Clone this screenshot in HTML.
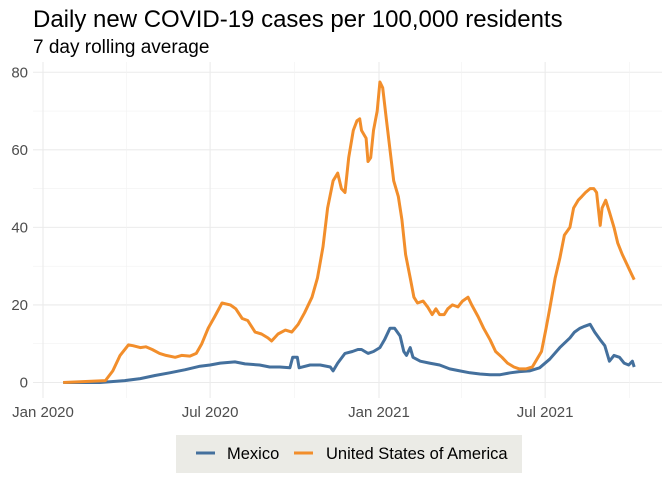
<!DOCTYPE html>
<html><head><meta charset="utf-8"><style>
body{margin:0;background:#fff;font-family:"Liberation Sans",sans-serif;}
svg{display:block}
</style></head><body>
<svg id="chart" width="672" height="480" xmlns="http://www.w3.org/2000/svg">
<text x="33" y="27" font-size="24" fill="#000">Daily new COVID-19 cases per 100,000 residents</text>
<text x="33" y="53" font-size="19" fill="#000">7 day rolling average</text>
<g id="grid"></g>
<g id="yticks"></g>
<g id="xticks"></g>
<g id="lines"></g>
<g>
<rect x="176" y="435" width="346" height="38" fill="#ebebe6"/>
<line x1="196" y1="453" x2="215" y2="453" stroke="#44709d" stroke-width="3"/>
<text x="227" y="459" font-size="16.5">Mexico</text>
<line x1="294" y1="453" x2="313" y2="453" stroke="#f28e2b" stroke-width="3"/>
<text x="326" y="459" font-size="16.5">United States of America</text>
</g>
</svg>
<script>
const yTicks=[0,20,40,60,80];
const xTickDays=[0,182,366,547];
const xTickLabels=["Jan 2020","Jul 2020","Jan 2021","Jul 2021"];
const xMinorDays=[91,274,456,639];
const usaDays=[22,68,76,84,93,98,106,112,119,127,134,144,151,160,167,173,180,187,195,204,210,217,223,231,238,245,249,256,264,271,278,285,293,299,305,310,316,321,325,329,333,338,342,345,347,352,354,357,360,364,367,370,374,378,382,387,391,395,400,404,408,414,419,424,428,432,437,441,446,452,457,463,467,474,480,487,493,500,506,513,519,526,533,538,543,548,552,558,563,568,574,578,583,587,591,596,600,603,607,609,613,617,622,626,631,637,641,644];
const usaVals=[0,0.5,3,7,9.7,9.5,9,9.2,8.5,7.5,7,6.5,7,6.8,7.5,10,14,17,20.5,20,19,16.5,16,13,12.5,11.5,10.7,12.5,13.5,13,15,18,22,27,35,45,52,54,50,49,58,65,67.5,68,65,63,57,58,65,70,77.5,76,68,60,52,48,42,33,27,22,20.5,21,19.5,17.5,19,17.5,17.5,19,20,19.5,21,22,20,17,14,11,8,6.5,5,4,3.5,3.5,4,6,8,14,19,27,32,38,40,45,47,48,49,50,50,49,40.5,45,47,44,40,36,33,30,28,26.5];
const mexDays=[22,62,73,89,106,122,138,155,171,182,193,209,220,236,247,258,269,272,277,279,291,302,313,316,321,329,337,343,347,354,360,367,372,378,383,389,393,396,400,403,411,421,432,443,454,465,476,487,498,509,519,530,541,552,563,574,579,585,590,596,601,607,612,617,622,628,633,638,642,644];
const mexVals=[0,0,0.2,0.5,1,1.8,2.5,3.3,4.2,4.5,5,5.3,4.8,4.5,4,4,3.8,6.5,6.5,3.8,4.5,4.5,4,3,5,7.5,8,8.5,8.5,7.5,8,9,11,14,14,12,8,7,9,6.5,5.5,5,4.5,3.5,3,2.5,2.2,2,2,2.5,2.8,3,3.8,6,9,11.5,13,14,14.5,15,13,11,9.5,5.5,7,6.5,5,4.5,5.5,4];
const NS="http://www.w3.org/2000/svg";
const X=d=>43+d*0.918;
const Y=v=>382.5-v*3.878;
function mk(tag,attrs,parent){const e=document.createElementNS(NS,tag);for(const k in attrs)e.setAttribute(k,attrs[k]);parent.appendChild(e);return e;}
const grid=document.getElementById('grid');
const yt=document.getElementById('yticks');
const xt=document.getElementById('xticks');
const lines=document.getElementById('lines');
for(let i=0;i<yTicks.length;i++){
  const g=mk('line',{x1:33,x2:662,y1:Y(yTicks[i]),y2:Y(yTicks[i]),stroke:'#ebebeb','stroke-width':1.1},grid);
  
  
  if(i<yTicks.length-1){const m=mk('line',{x1:33,x2:662,y1:Y(yTicks[i]+10),y2:Y(yTicks[i]+10),stroke:'#f2f2f2','stroke-width':0.6},grid);
  
  }
  const t=mk('text',{x:28,y:Y(yTicks[i])+5,'font-size':15,fill:'#4d4d4d','text-anchor':'end'},yt);
  t.textContent=yTicks[i];
  
  
}
for(let i=0;i<xMinorDays.length;i++){
  const m=mk('line',{x1:X(xMinorDays[i]),x2:X(xMinorDays[i]),y1:62,y2:398,stroke:'#f2f2f2','stroke-width':0.6},grid);
  
  
}
for(let i=0;i<xTickDays.length;i++){
  const g=mk('line',{x1:X(xTickDays[i]),x2:X(xTickDays[i]),y1:62,y2:398,stroke:'#ebebeb','stroke-width':1.1},grid);
  
  
  const t=mk('text',{x:X(xTickDays[i]),y:417,'font-size':15,fill:'#4d4d4d','text-anchor':'middle'},xt);
  t.textContent=xTickLabels[i];
  
  
}
function path(days,vals,color,name){
  const d=days.map((dd,i)=>(i?'L':'M')+X(dd).toFixed(1)+','+Y(vals[i]).toFixed(1)).join('');
  const p=mk('path',{d:d,fill:'none',stroke:color,'stroke-width':3,'stroke-linejoin':'round'},lines);
  
  
}
path(mexDays,mexVals,'#44709d','mexico-line');
path(usaDays,usaVals,'#f28e2b','usa-line');
</script>
</body></html>
